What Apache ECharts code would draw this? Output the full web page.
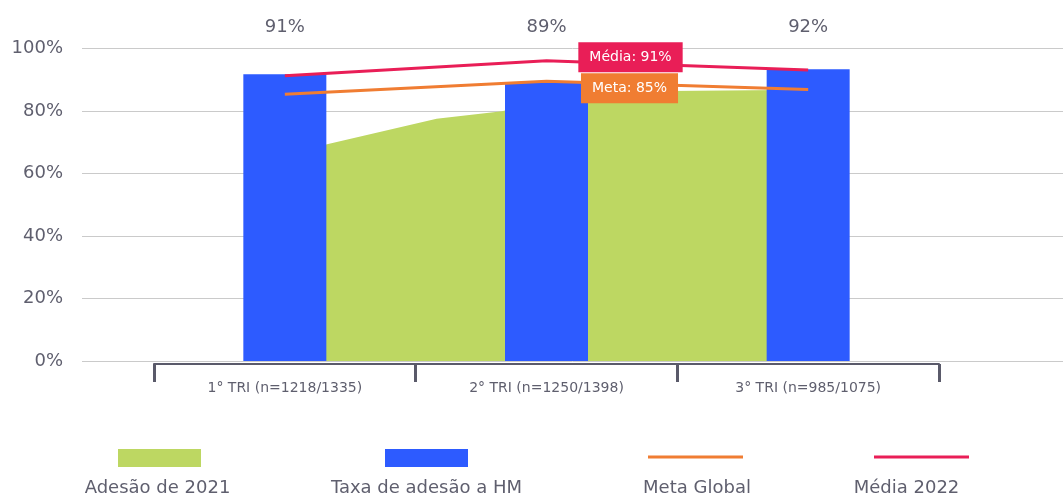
<!DOCTYPE html>
<html>
<head>
<meta charset="utf-8">
<script src="https://cdn.jsdelivr.net/npm/echarts@6/dist/echarts.min.js"></script>
<style>
  html, body { margin: 0; padding: 0; background: #fff; }
  #chart { width: 1063px; height: 498px; }
</style>
</head>
<body>
<div id="chart"></div>
<script>
// data
const categories = ['1° TRI (n=1218/1335)', '2° TRI (n=1250/1398)', '3° TRI (n=985/1075)'];
const topLabels = ['91%', '89%', '92%'];
const taxaHM = [91.7, 89.2, 93.3];
const metaGlobal = [85.3, 89.5, 86.8];
const media2022 = [91.2, 96.0, 93.1];
// green area drawn on a hidden 0..3 value axis (category i centre = i + 0.5)
const adesao2021X = [0.6, 1.08, 1.33, 1.64, 2.4];
const adesao2021Y = [68.1, 77.5, 79.9, 86.1, 86.7];
const metaLabel = 'Meta: 85%';
const mediaLabel = 'Média: 91%';
const yTicks = [0, 20, 40, 60, 80, 100];

const seriesNames = ['Adesão de 2021', 'Taxa de adesão a HM', 'Meta Global', 'Média 2022'];
const colors = ['#bdd762', '#2d5bff', '#f07d32', '#e91e57'];

const FONT = 'DejaVu Sans';
const GRAY = '#5f5f6e';

const chart = echarts.init(document.getElementById('chart'));

const middleLabel = (text, bg, offset) => ({
  show: true,
  position: 'inside',
  offset: offset,
  formatter: text,
  backgroundColor: bg,
  color: '#fff',
  fontFamily: FONT,
  fontSize: 14,
  lineHeight: 16,
  padding: [7, 11],
});

// icon-only legends (top row) and text-only legends (bottom row)
const iconPos = [
  { left: 118, top: 449, w: 83, h: 18 },
  { left: 385, top: 449, w: 83, h: 18 },
  { left: 648, top: 455.5, w: 95, h: 3 },
  { left: 874, top: 455.5, w: 95, h: 3 },
];
const textCenters = [157.5, 426.5, 697, 906.5];

const legends = [];
seriesNames.forEach((name, i) => {
  legends.push({
    left: iconPos[i].left,
    top: iconPos[i].top,
    padding: 0,
    itemWidth: iconPos[i].w,
    itemHeight: iconPos[i].h,
    data: [{ name: name, icon: 'rect' }],
    formatter: () => '',
  });
  legends.push({
    left: textCenters[i] - 125,
    top: 479,
    padding: 0,
    itemWidth: 0,
    itemHeight: 0,
    data: [{ name: name, icon: 'rect' }],
    formatter: '{t|{name}}',
    textStyle: {
      rich: {
        t: { width: 240, align: 'center', fontSize: 18, lineHeight: 20, color: GRAY, fontFamily: FONT },
      },
    },
  });
});

const option = {
  animation: false,
  textStyle: { fontFamily: FONT },
  legend: legends,
  grid: [
    { left: 82, right: 0, top: 48.3, bottom: 137 },
    { left: 154, right: 124, top: 48.3, bottom: 137 },
  ],
  xAxis: [
    { type: 'value', gridIndex: 0, show: false, position: 'bottom' },
    {
      type: 'category',
      gridIndex: 1,
      position: 'bottom',
      data: categories,
      offset: 3,
      z: 5,
      axisLine: { show: true, onZero: false, lineStyle: { color: '#5a5a6a', width: 2 } },
      axisTick: { show: true, interval: 0, length: 18, lineStyle: { color: '#5a5a6a', width: 3 } },
      axisLabel: { color: GRAY, fontSize: 14, margin: 17, fontFamily: FONT },
    },
    { type: 'value', gridIndex: 1, show: false, min: 0, max: 3, position: 'bottom' },
    {
      type: 'category',
      gridIndex: 1,
      position: 'top',
      data: topLabels,
      axisLine: { show: false, onZero: false },
      axisTick: { show: false },
      axisLabel: { color: GRAY, fontSize: 18, margin: 12, fontFamily: FONT },
    },
  ],
  yAxis: [
    {
      type: 'value',
      gridIndex: 0,
      min: yTicks[0],
      max: yTicks[yTicks.length - 1],
      interval: 20,
      axisLine: { show: false },
      axisTick: { show: false },
      axisLabel: {
        formatter: '{value}%',
        color: GRAY,
        fontSize: 18,
        margin: 19,
        padding: [0, 0, 10, 0],
        fontFamily: FONT,
      },
      splitLine: { lineStyle: { color: '#cacaca', width: 1 } },
    },
    { type: 'value', gridIndex: 1, min: 0, max: 100, show: false },
  ],
  series: [
    {
      name: seriesNames[0],
      type: 'line',
      xAxisIndex: 2,
      yAxisIndex: 1,
      data: adesao2021X.map((x, i) => [x, adesao2021Y[i]]),
      symbol: 'none',
      color: colors[0],
      lineStyle: { width: 0 },
      areaStyle: { color: colors[0], opacity: 1 },
      z: 1,
    },
    {
      name: seriesNames[1],
      type: 'bar',
      xAxisIndex: 1,
      yAxisIndex: 1,
      data: taxaHM,
      barWidth: 83,
      color: colors[1],
      z: 2,
    },
    {
      name: seriesNames[2],
      type: 'line',
      xAxisIndex: 1,
      yAxisIndex: 1,
      data: metaGlobal.map((v, i) => i === 1
        ? { value: v, label: middleLabel(metaLabel, colors[2], [83, 7]) }
        : v),
      symbol: 'circle',
      symbolSize: 0,
      color: colors[2],
      lineStyle: { width: 3, color: colors[2] },
      z: 3,
    },
    {
      name: seriesNames[3],
      type: 'line',
      xAxisIndex: 1,
      yAxisIndex: 1,
      data: media2022.map((v, i) => i === 1
        ? { value: v, label: middleLabel(mediaLabel, colors[3], [84, -3.6]) }
        : v),
      symbol: 'circle',
      symbolSize: 0,
      color: colors[3],
      lineStyle: { width: 3, color: colors[3] },
      z: 4,
    },
  ],
};

chart.setOption(option);
window.addEventListener('resize', () => chart.resize());
</script>
</body>
</html>
